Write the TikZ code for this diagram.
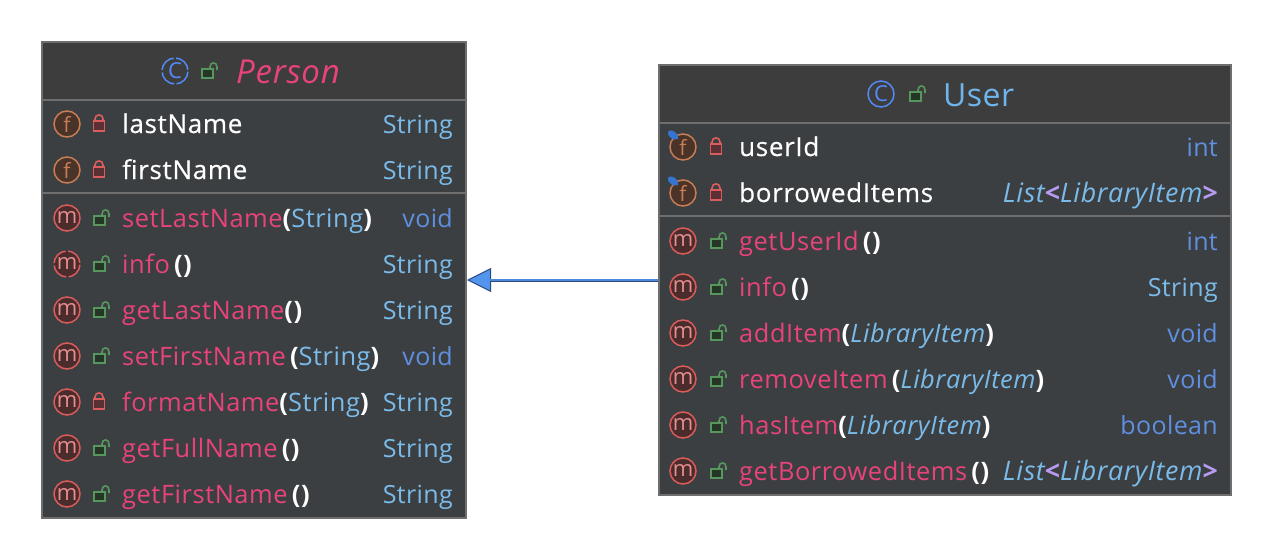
\documentclass[tikz,border=0pt]{standalone}
\usepackage{fontspec}
\setmainfont[LetterSpace=1.5]{Open Sans}
\newfontfamily\namefont[LetterSpace=2.6,FakeBold=0.35]{Open Sans}
\newfontfamily\callfont[LetterSpace=2.2]{Open Sans}
\usetikzlibrary{arrows.meta}

\definecolor{boxbg}{HTML}{3C3F41}
\definecolor{headbg}{HTML}{3D3D3D}
\definecolor{boxline}{HTML}{6E6E6E}
\definecolor{pinktxt}{HTML}{E8437A}
\definecolor{typetxt}{HTML}{7ABBEA}
\definecolor{voidtxt}{HTML}{5F8FE0}
\definecolor{bracket}{HTML}{B79BF2}
\definecolor{titletxt}{HTML}{6FB5EC}
\definecolor{iconblue}{HTML}{548AF7}
\definecolor{lockred}{HTML}{DB5C5C}
\definecolor{lockredbg}{HTML}{5A3034}
\definecolor{lockgreen}{HTML}{57965C}
\definecolor{lockgreenbg}{HTML}{253627}
\definecolor{fline}{HTML}{C77D55}
\definecolor{fbg}{HTML}{4A3329}
\definecolor{mbg}{HTML}{4A2C2C}
\definecolor{pinblue}{HTML}{3574D0}
\definecolor{arrowedge}{HTML}{2A4A80}
\definecolor{arrowcore}{HTML}{4C8ADB}
\definecolor{arrowfill}{HTML}{5394EC}

\newcommand{\pt}[1]{\textcolor{pinktxt}{#1}}
\newcommand{\wt}[1]{\textcolor{white}{\bfseries #1}}
\newcommand{\st}[1]{\textcolor{typetxt}{#1}}
\newcommand{\tp}[1]{\textcolor{typetxt}{\itshape #1}}
\newcommand{\listtype}{\callfont\tp{List}\textcolor{bracket}{\bfseries<}\tp{LibraryItem}\textcolor{bracket}{\bfseries>}}

\tikzset{
  umlbox/.style={draw=boxline, line width=2pt, fill=boxbg, inner sep=0pt, anchor=north west},
  headbar/.style={fill=headbg, inner sep=0pt, anchor=north west},
  sepline/.style={draw=boxline, line width=2pt},
  membername/.style={anchor=base west, inner sep=0pt, font=\fontsize{26}{26}\namefont, text=white},
  membercall/.style={anchor=base west, inner sep=0pt, font=\fontsize{25.4}{26}\callfont, text=white},
  membertype/.style={anchor=base east, inner sep=0pt, font=\fontsize{25}{25}\selectfont, text=typetxt},
  titlename/.style={anchor=base west, inner sep=0pt, font=\fontsize{32}{32}\selectfont},
  ficon/.style={circle, draw=fline, line width=1.5pt, fill=fbg, minimum size=26pt, inner sep=0pt, text=fline, font=\fontsize{21}{21}\selectfont},
  micon/.style={circle, draw=lockred, line width=1.5pt, fill=mbg, minimum size=26pt, inner sep=0pt, text=lockred!70!white, font=\fontsize{22}{22}\selectfont},
  cicon/.style={circle, draw=iconblue, line width=1.5pt, minimum size=26pt, inner sep=0pt, text=iconblue, font=\fontsize{22}{22}\selectfont},
  brokenring/.style={dash pattern=on 18pt off 2.42pt, dash phase=19.2pt},
  lockclosed/.pic={
    \draw[lockred, line width=1.6pt] (-4,-3) -- (-4,-5) .. controls (-4,-10.5) and (4,-10.5) .. (4,-5) -- (4,-3);
    \draw[lockred, line width=1.6pt, fill=lockredbg] (-5.5,-3) rectangle (5.5,7);
  },
  lockopen/.pic={
    \draw[lockgreen, line width=1.6pt] (2,-2) -- (2,-4) .. controls (2,-9.5) and (9,-9.5) .. (9,-4) -- (9,-1);
    \draw[lockgreen, line width=1.6pt, fill=lockgreenbg] (-6,-2) rectangle (5,7);
  },
  pinmark/.pic={
    \draw[pinblue, line width=1pt] (0,0) -- (5,4);
    \fill[pinblue, rotate=-38] (0,0) ellipse (6pt and 3.5pt);
  },
  extarrow/.style={draw=arrowedge, line width=3pt, -{Triangle[length=24pt, width=24pt, fill=arrowfill, line width=1pt]}},
}

\begin{document}
\begin{tikzpicture}[x=1pt, y=-1pt]
  \useasboundingbox (0,0) rectangle (1272,554);

  % Person
  \node[umlbox, minimum width=424pt, minimum height=476pt] (personbox) at (41,41) {};
  \node[headbar, minimum width=422pt, minimum height=57pt] (personhead) at (43,43) {};
  \draw[sepline] (personbox.west |- 0,100) -- (personbox.east |- 0,100);
  \draw[sepline] (personbox.west |- 0,193) -- (personbox.east |- 0,193);

  \node[cicon, brokenring] (personc) at (175,71) {C};
  \pic at (208,71) {lockopen};
  \node[titlename, text=pinktxt, font=\fontsize{33}{33}\selectfont] (persontitle) at (236,83) {\callfont\itshape Person};

  \foreach \y/\n in {124/lastf, 170/firstf}
    \node[ficon] (\n) at (67,\y) {f};
  \foreach \y/\n in {218/setlastm, 310/getlastm, 356/setfirstm, 402/formatm, 448/fullm, 494/getfirstm}
    \node[micon] (\n) at (67,\y) {m};
  \node[micon, brokenring] (infom) at (67,264) {m};

  \foreach \y in {124,170,402}
    \pic at (99,\y) {lockclosed};
  \foreach \y in {218,264,310,356,448,494}
    \pic at (100,\y) {lockopen};

  \node[membername] (lastname) at (122,133) {lastName};
  \node[membername] (firstname) at (122,179) {firstName};
  \node[membercall] (setlast) at (122,227) {\pt{setLastName}\wt{(}\st{String}\wt{)}};
  \node[membercall] (info) at (122,273) {\pt{info}\,\wt{()}};
  \node[membercall] (getlast) at (122,319) {\pt{getLastName}\wt{()}};
  \node[membercall] (setfirst) at (122,365) {\pt{setFirstName}\,\wt{(}\st{String}\wt{)}};
  \node[membercall] (format) at (122,411) {\pt{formatName}\wt{(}\st{String}\wt{)}};
  \node[membercall] (getfull) at (122,457) {\pt{getFullName}\,\wt{()}};
  \node[membercall] (getfirst) at (122,503) {\pt{getFirstName}\,\wt{()}};

  \foreach \y/\n/\t/\c in {133/tlast/String/typetxt, 179/tfirst/String/typetxt, 227/tsetlast/void/voidtxt,
      273/tinfo/String/typetxt, 319/tgetlast/String/typetxt, 365/tsetfirst/void/voidtxt,
      411/tformat/String/typetxt, 457/tfull/String/typetxt, 503/tgetfirst/String/typetxt}
    \node[membertype, text=\c] (\n) at (453,\y) {\t};

  % User
  \node[umlbox, minimum width=572pt, minimum height=430pt] (userbox) at (658,64) {};
  \node[headbar, minimum width=570pt, minimum height=57pt] (userhead) at (660,66) {};
  \draw[sepline] (userbox.west |- 0,123) -- (userbox.east |- 0,123);
  \draw[sepline] (userbox.west |- 0,216) -- (userbox.east |- 0,216);

  \node[cicon] (userc) at (881,94) {C};
  \pic at (916,94) {lockopen};
  \node[titlename, text=titletxt] (usertitle) at (943,106) {User};

  \foreach \y/\n in {147/idf, 193/itemsf}{
    \node[ficon] (\n) at (683,\y) {f};
    \pic at (673,\y-12) {pinmark};
    \pic at (716,\y) {lockclosed};
  }
  \foreach \y/\n in {241/getidm, 287/uinfom, 333/addm, 379/removem, 425/hasm, 471/getitemsm}{
    \node[micon] (\n) at (683,\y) {m};
    \pic at (717,\y) {lockopen};
  }

  \node[membername] (userid) at (739,156) {userId};
  \node[membername] (items) at (739,202) {borrowedItems};
  \node[membercall] (getid) at (739,250) {\pt{getUserId}\,\wt{()}};
  \node[membercall] (uinfo) at (739,296) {\pt{info}\,\wt{()}};
  \node[membercall] (additem) at (739,342) {\pt{addItem}\wt{(}\tp{LibraryItem}\wt{)}};
  \node[membercall] (removeitem) at (739,388) {\pt{removeItem}\,\wt{(}\tp{LibraryItem}\wt{)}};
  \node[membercall] (hasitem) at (739,434) {\pt{hasItem}\wt{(}\tp{LibraryItem}\wt{)}};
  \node[membercall] (getitems) at (739,480) {\pt{getBorrowedItems}\,\wt{()}};

  \node[membertype, text=voidtxt] (tuserid) at (1218,156) {int};
  \node[membertype, font=\fontsize{26.8}{27}\selectfont] (titems) at (1218,202) {\listtype};
  \node[membertype, text=voidtxt] (tgetid) at (1218,250) {int};
  \node[membertype] (tuinfo) at (1218,296) {String};
  \node[membertype, text=voidtxt] (tadd) at (1218,342) {void};
  \node[membertype, text=voidtxt] (tremove) at (1218,388) {void};
  \node[membertype, text=voidtxt] (thas) at (1218,434) {boolean};
  \node[membertype, font=\fontsize{26.8}{27}\selectfont] (tgetitems) at (1218,480) {\listtype};

  % extends
  \draw[extarrow] (userbox.west) -- (personbox.east);
  \draw[arrowcore, line width=1.6pt, shorten >=22pt] (userbox.west) -- (personbox.east);
\end{tikzpicture}
\end{document}
